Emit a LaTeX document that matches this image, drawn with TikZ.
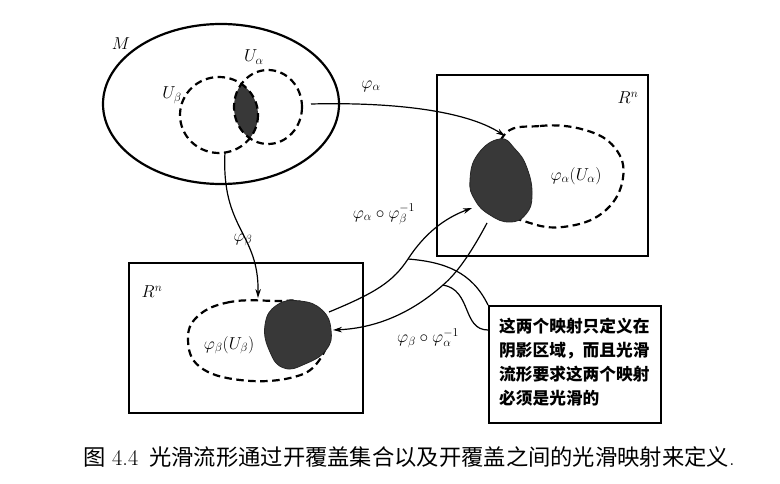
\documentclass[tikz,border=0pt]{standalone}
\usepackage{fontspec}
\newfontfamily\cjk{Noto Sans CJK SC}
\usetikzlibrary{arrows.meta}
\tikzset{
  thickline/.style={line width=2.2pt},
  dashline/.style={line width=2.2pt, dash pattern=on 7.5pt off 4.5pt},
  frame/.style={line width=2.2pt},
  blob/.style={fill=black!78, draw=black!85, line width=0.8pt},
  maparrow/.style={line width=1.2pt, -{Stealth[length=9pt,width=5.5pt]}},
  calloutline/.style={line width=1.2pt},
  lbl/.style={inner sep=0pt, font=\fontsize{18.5}{20}\selectfont},
}
\begin{document}
\begin{tikzpicture}[x=1pt,y=-1pt]
\path[use as bounding box, fill=white] (0,0) rectangle (780,484);

% manifold M
\draw[thickline] (221,104) ellipse [x radius=118, y radius=80];
\node[lbl] (M) at (121,44) {$M$};
\begin{scope}
  \clip (219,115) ellipse [x radius=39, y radius=38];
  \fill[black!78] (268,107) ellipse [x radius=34, y radius=37];
\end{scope}
\draw[dashline] (219,115) ellipse [x radius=39, y radius=38];
\draw[dashline] (268,107) ellipse [x radius=34, y radius=37];
\node[lbl] (Ua) at (254,57) {$U_\alpha$};
\node[lbl] (Ub) at (172,95) {$U_\beta$};

% right box
\draw[frame] (437,75) rectangle (648,256);
\node[lbl] (Rn1) at (628,98) {$R^n$};
\draw[dashline] plot[smooth cycle, tension=0.7] coordinates {(502,138) (540,126) (585,130) (615,148) (623,178) (606,210) (570,226) (530,223) (495,200)};
\draw[blob] plot[smooth cycle, tension=0.8] coordinates {(500,139) (515,149) (527,168) (532,195) (526,214) (510,222) (490,215) (475,200) (470,180) (478,154)};
\node[lbl] (faUa) at (576,176) {$\varphi_\alpha(U_\alpha)$};

% left box
\draw[frame] (129,263) rectangle (363,413);
\node[lbl] (Rn2) at (152,292) {$R^n$};
\draw[dashline] plot[smooth cycle, tension=0.7] coordinates {(275,301) (230,302) (198,316) (188,340) (200,367) (240,380) (290,378) (318,362) (327,330) (305,304)};
\draw[blob] plot[smooth cycle, tension=0.8] coordinates {(277,305) (300,301) (322,310) (331,330) (326,350) (305,364) (284,368) (270,352) (265,325)};
\node[lbl] (fbUb) at (229,345) {$\varphi_\beta(U_\beta)$};

% coordinates for connectors
\coordinate (aS) at (311,104);
\coordinate (aE) at (505,136);
\coordinate (bS) at (225,152);
\coordinate (bE) at (258,298);
\coordinate (cS) at (329,312);
\coordinate (cM) at (408,259);
\coordinate (cE) at (472,208);
\coordinate (dS) at (487,223);
\coordinate (dM) at (443,285);
\coordinate (dE) at (333,330);

% maps
\draw[maparrow] (aS) .. controls (390,102) and (465,110) .. (aE);
\node[lbl] (fa) at (371,86) {$\varphi_\alpha$};
\draw[maparrow] (bS) .. controls (221,230) and (259,232) .. (bE);
\node[lbl] (fb) at (243,240) {$\varphi_\beta$};
\draw[maparrow] (cS) .. controls (375,293) and (393,282) .. (cM) .. controls (425,233) and (445,218) .. (cE);
\node[lbl] (fab) at (384,214) {$\varphi_\alpha\circ\varphi_\beta^{-1}$};
\draw[maparrow] (dS) .. controls (470,255) and (456,274) .. (dM) .. controls (415,310) and (380,328) .. (dE);
\node[lbl] (fba) at (428,338) {$\varphi_\beta\circ\varphi_\alpha^{-1}$};

% callout
\node[draw, line width=1.6pt, minimum width=172pt, minimum height=117pt, anchor=north west, inner sep=0pt] (note) at (488,305) {};
\node[anchor=north west, inner sep=0pt, align=left, font=\cjk\bfseries\fontsize{16.7}{24}\selectfont] (notetext) at (499,318)
  {这两个映射只定义在\\阴影区域，而且光滑\\流形要求这两个映射\\必须是光滑的};
\draw[calloutline] (cM) .. controls (445,262) and (472,272) .. (note.north west);
\draw[calloutline] (dM) .. controls (472,290) and (462,330) .. ([yshift=-25pt]note.north west);

% caption
\node[anchor=base west, inner sep=0pt, font=\fontsize{22.3}{24}\selectfont] (cap) at (83,465)
  {{\cjk 图} 4.4\hspace{11pt}{\cjk 光滑流形通过开覆盖集合以及开覆盖之间的光滑映射来定义}.};
\end{tikzpicture}
\end{document}
